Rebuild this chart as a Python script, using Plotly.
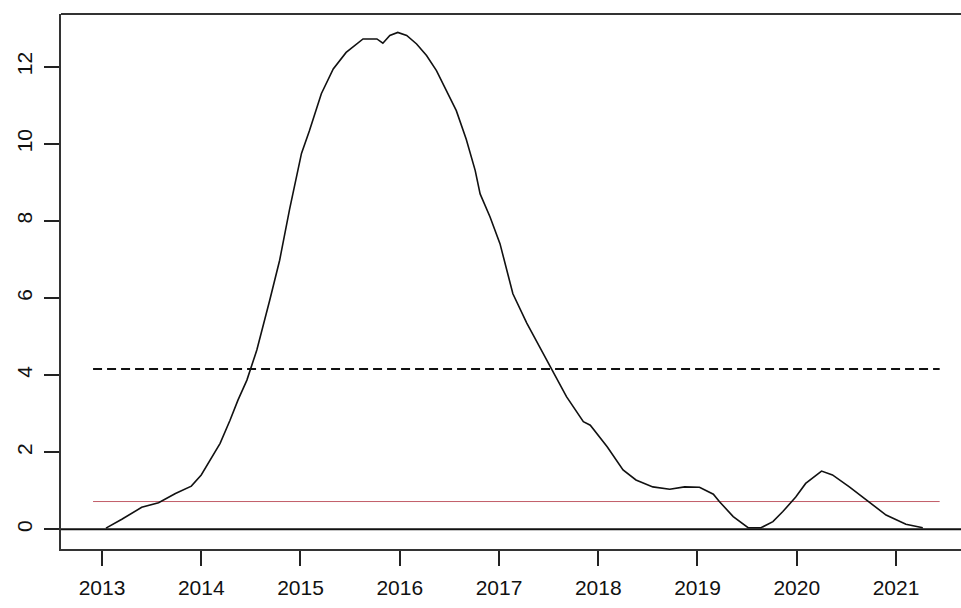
import plotly.graph_objects as go

# smoothed series (decimal year, value)
years = [2013.04, 2013.20, 2013.40, 2013.57, 2013.74, 2013.90, 2014.00, 2014.09,
         2014.19, 2014.29, 2014.37, 2014.46, 2014.56, 2014.69, 2014.79, 2014.89,
         2014.96, 2015.01, 2015.09, 2015.21, 2015.33, 2015.46, 2015.63, 2015.77,
         2015.83, 2015.90, 2015.98, 2016.07, 2016.17, 2016.27, 2016.37, 2016.47,
         2016.57, 2016.67, 2016.76, 2016.81, 2016.91, 2017.01, 2017.08, 2017.14,
         2017.28, 2017.41, 2017.52, 2017.68, 2017.85, 2017.92, 2018.09, 2018.25,
         2018.38, 2018.55, 2018.72, 2018.87, 2019.02, 2019.16, 2019.22, 2019.36,
         2019.51, 2019.64, 2019.76, 2019.86, 2019.99, 2020.09, 2020.25, 2020.36,
         2020.53, 2020.70, 2020.90, 2021.10, 2021.27]
values = [0.03, 0.26, 0.57, 0.69, 0.93, 1.12, 1.41, 1.80,
          2.23, 2.83, 3.35, 3.87, 4.65, 5.94, 6.98, 8.30,
          9.15, 9.75, 10.34, 11.30, 11.94, 12.37, 12.72, 12.72,
          12.61, 12.81, 12.89, 12.81, 12.59, 12.29, 11.90, 11.38,
          10.86, 10.12, 9.31, 8.70, 8.10, 7.41, 6.72, 6.11,
          5.35, 4.73, 4.17, 3.44, 2.79, 2.70, 2.14, 1.54,
          1.28, 1.10, 1.04, 1.10, 1.09, 0.91, 0.72, 0.33,
          0.04, 0.04, 0.20, 0.46, 0.84, 1.19, 1.51, 1.41,
          1.10, 0.76, 0.37, 0.13, 0.04]

# reference levels
upper_level = 4.16
lower_level = 0.72
level_span = [2012.91, 2021.44]

x_ticks = [2013, 2014, 2015, 2016, 2017, 2018, 2019, 2020, 2021]
y_ticks = [0, 2, 4, 6, 8, 10, 12]

font = dict(family="Liberation Sans, Arial, sans-serif", size=21, color="#111111")

fig = go.Figure()

fig.add_trace(go.Scatter(x=level_span, y=[upper_level, upper_level], mode="lines",
                         line=dict(color="#111111", width=2, dash="9px,5px"),
                         hoverinfo="skip"))
fig.add_trace(go.Scatter(x=level_span, y=[lower_level, lower_level], mode="lines",
                         line=dict(color="#c25c68", width=1),
                         hoverinfo="skip"))
fig.add_trace(go.Scatter(x=years, y=values, mode="lines",
                         line=dict(color="#111111", width=1.6),
                         hoverinfo="skip"))

# zero line across the full width, plus the top border of the box
fig.add_shape(type="line", xref="paper", x0=0, x1=1, yref="y", y0=0, y1=0,
              line=dict(color="#111111", width=2), layer="below")
fig.add_shape(type="line", xref="paper", x0=0, x1=1, yref="paper", y0=1, y1=1,
              line=dict(color="#333333", width=2))

fig.update_layout(
    width=961, height=608,
    margin=dict(l=61, r=0, t=14, b=59),
    plot_bgcolor="white", paper_bgcolor="white",
    showlegend=False,
    font=font,
    xaxis=dict(range=[2012.587, 2021.655], tickvals=x_ticks,
               ticktext=[str(t) for t in x_ticks],
               showgrid=False, zeroline=False,
               showline=True, linecolor="#333333", linewidth=2,
               ticks="outside", ticklen=15, tickwidth=2, tickcolor="#222222",
               ticklabelstandoff=4, tickfont=font),
    yaxis=dict(range=[-0.511, 13.367], tickvals=y_ticks,
               ticktext=[str(t) for t in y_ticks],
               showgrid=False, zeroline=False,
               showline=True, linecolor="#333333", linewidth=2,
               ticks="outside", ticklen=15, tickwidth=2, tickcolor="#222222",
               tickangle=-90, ticklabelstandoff=4, tickfont=font),
)

fig.write_html("out.html")
